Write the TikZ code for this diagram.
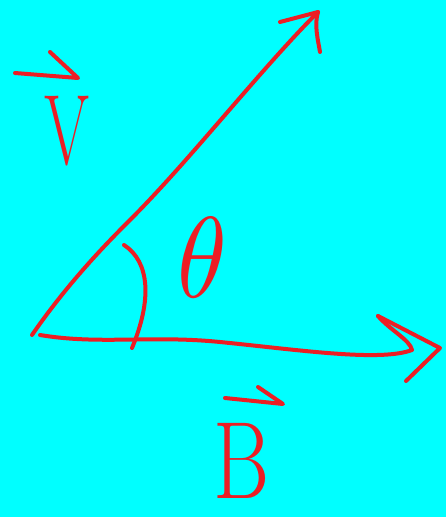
\documentclass[tikz,border=0pt]{standalone}
\usepackage{tikz}
\definecolor{pen}{RGB}{236,30,36}
\definecolor{paper}{RGB}{0,255,255}
\tikzset{ink/.style={pen, line width=4pt, line cap=round, line join=round}}

\begin{document}
\begin{tikzpicture}[x=1pt, y=-1pt]
\fill[paper] (0,0) rectangle (446,517);
\useasboundingbox (0,0) rectangle (446,517);
% vector V
\coordinate (orig) at (32,335);
\coordinate (vtip) at (318,12);
\draw[ink] (orig) .. controls (70,280) and (110,240) .. (130,220) .. controls (190,160) and (260,70) .. (vtip);
\draw[ink] (280,22) -- (vtip) .. controls (314,25) and (318,40) .. (320,52);
% vector B
\coordinate (btip) at (412,350);
\draw[ink] (40,335) .. controls (100,345) and (150,335) .. (220,342) .. controls (300,350) and (380,362) .. (btip) .. controls (410,340) and (390,330) .. (378,316);
\draw[ink] (378,316) -- (440,348) -- (406,381);
% angle
\draw[ink] (124,245) .. controls (150,262) and (152,300) .. (132,348);
% labels
\node[pen, inner sep=0, xscale=0.65] (V) at (67,131) {\fontsize{100}{100}\selectfont V};
\draw[ink] (15,73) -- (78,78) -- (50,52);
\node[pen, inner sep=0, xscale=0.78] (B) at (242,461) {\fontsize{110}{110}\selectfont B};
\draw[ink] (225,398) -- (283,404) -- (258,387);
\node[pen, inner sep=0, xscale=10, yscale=11.5] (theta) at (202,258) {$\theta$};
\end{tikzpicture}
\end{document}
